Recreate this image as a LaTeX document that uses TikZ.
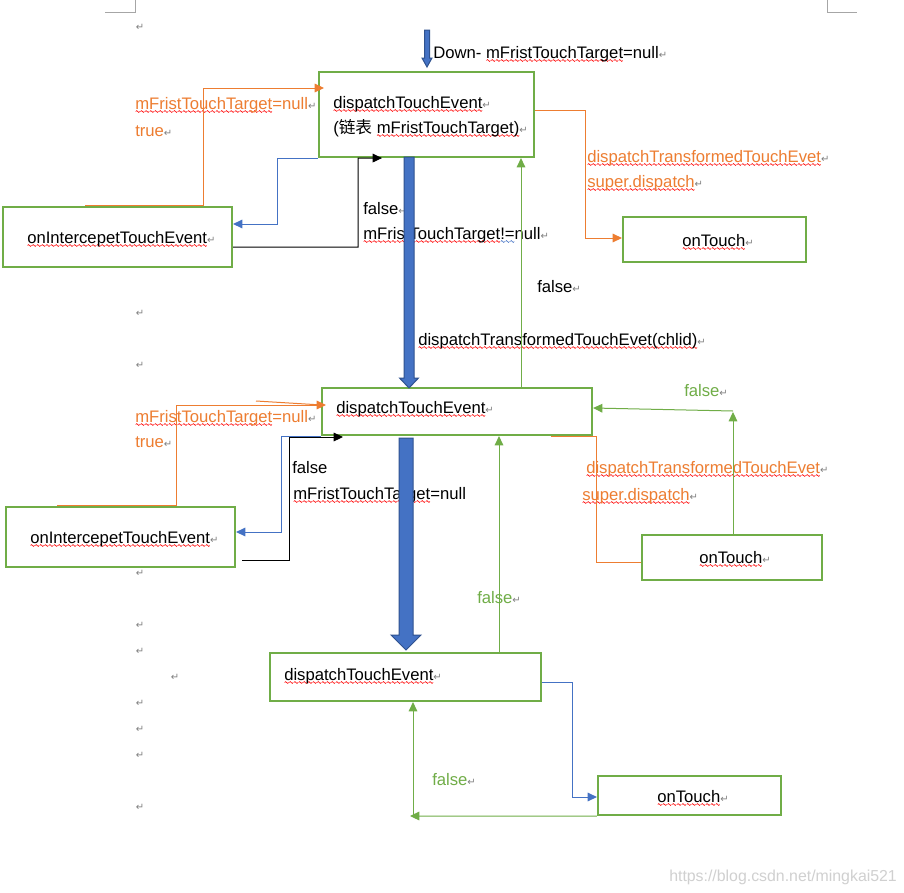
\documentclass[tikz,border=0pt]{standalone}
\usepackage{fontspec}
\setmainfont{Liberation Sans}
\newfontfamily\cjk{Noto Sans CJK SC}
\newfontfamily\djv{DejaVu Sans}
\usetikzlibrary{arrows.meta,fit}
\definecolor{ogreen}{HTML}{70AD47}
\definecolor{oorange}{HTML}{ED7D31}
\definecolor{oblue}{HTML}{4472C4}
\definecolor{odblue}{HTML}{2F528F}
\definecolor{retgray}{HTML}{808080}
\definecolor{wvred}{HTML}{FF0000}
\definecolor{wvblue}{HTML}{4472C4}
\definecolor{pagegray}{HTML}{A6A6A6}
\definecolor{wmgray}{HTML}{D0D0D0}
\newsavebox\wavR
\newsavebox\wavB
\newsavebox\wavT
\newcommand\mkwave[2]{\sbox#1{\pgfpicture
  \pgfsetlinewidth{0.45pt}\pgfsetstrokecolor{#2}%
  \pgfpathmoveto{\pgfpoint{0pt}{0pt}}%
  \pgfpathcurveto{\pgfpoint{0.45pt}{0.9pt}}{\pgfpoint{1.05pt}{0.9pt}}{\pgfpoint{1.5pt}{0pt}}%
  \pgfpathcurveto{\pgfpoint{1.95pt}{-0.9pt}}{\pgfpoint{2.55pt}{-0.9pt}}{\pgfpoint{3pt}{0pt}}%
  \pgfusepath{stroke}\endpgfpicture}}
\newcommand\wvgen[2]{\sbox\wavT{#2}\rlap{\lower3pt\hbox to\wd\wavT{\xleaders\copy#1\hfil}}\usebox\wavT}
\newcommand\wv[1]{\wvgen\wavR{#1}}
\newcommand\bwv[1]{\wvgen\wavB{#1}}
\newcommand\retm{{\djv\fontsize{7.5}{7.5}\selectfont\textcolor{retgray}{↵}}}
\begin{document}
\mkwave\wavR{wvred}\mkwave\wavB{wvblue}%
\begin{tikzpicture}[x=0.75pt,y=-0.75pt,
  box/.style={draw=ogreen,line width=1.6pt,inner sep=0pt},
  txt/.style={inner sep=0pt,anchor=base west,font=\fontsize{12.5}{14}\selectfont},
  otxt/.style={txt,text=oorange},
  gtxt/.style={txt,text=ogreen},
  pmark/.style={inner sep=0pt,anchor=center},
  con/.style={line width=0.75pt},
  tip/.style={-{Triangle[length=7pt,width=6.5pt]}},
  ocon/.style={con,draw=oorange},
  bcon/.style={con,draw=oblue},
  kcon/.style={con,draw=black},
  gcon/.style={con,draw=ogreen},
  bigarrow/.style={fill=oblue,draw=odblue,line width=0.75pt}]
\useasboundingbox (0,0) rectangle (904,893);
\fill[white] (0,0) rectangle (904,893);

% page corner marks
\draw[pagegray,line width=0.75pt] (105,12) -- (135,12) -- (135,0);
\draw[pagegray,line width=0.75pt] (827,0) -- (827,12) -- (857,12);

% paragraph marks
\node[pmark] (p1) at (140,27) {\retm};
\node[pmark] (p2) at (140,313) {\retm};
\node[pmark] (p3) at (140,365) {\retm};
\node[pmark] (p4) at (140,573) {\retm};
\node[pmark] (p5) at (140,625) {\retm};
\node[pmark] (p6) at (140,651) {\retm};
\node[pmark] (p7) at (175,677) {\retm};
\node[pmark] (p8) at (140,703) {\retm};
\node[pmark] (p9) at (140,729) {\retm};
\node[pmark] (p10) at (140,755) {\retm};
\node[pmark] (p11) at (140,807) {\retm};

% boxes
\node[box,fit={(319,72) (534,157)}] (b1) {};
\node[box,fit={(3,207) (232,267)}] (b2) {};
\node[box,fit={(623,217) (806,262)}] (b3) {};
\node[box,fit={(322,388) (592,435)}] (b4) {};
\node[box,fit={(6,507) (235,567)}] (b5) {};
\node[box,fit={(642,535) (822,580)}] (b6) {};
\node[box,fit={(270,653) (541,701)}] (b7) {};
\node[box,fit={(598,776) (781,815)}] (b8) {};

% texts
\node[txt] (tdown) at (433,58) {Down- \wv{mFristTouchTarget}=null\retm};
\node[otxt] (to1) at (135,109) {\wv{mFristTouchTarget}=null\retm};
\node[otxt] (to1b) at (135,136) {true\retm};
\node[txt] (t1a) at (333,108) {\wv{dispatchTouchEvent}\retm};
\node[txt] (t1b) at (333,133) {({\cjk 链表} \wv{mFristTouchTarget)}\retm};
\node[txt] (t2) at (27,243) {\wv{onIntercepetTouchEvent}\retm};
\node[txt] (tf1) at (363,214) {false\retm};
\node[txt] (tf1b) at (363,239) {\wv{mFristTouchTarget}\bwv{!=}null\retm};
\node[otxt] (to2) at (587,162) {\wv{dispatchTransformedTouchEvet}\retm};
\node[otxt] (to2b) at (587,187) {\wv{super.dispatch}\retm};
\node[txt] (t3) at (682,246) {\wv{onTouch}\retm};
\node[txt] (tf2) at (537,292) {false\retm};
\node[txt] (tdt) at (418,345) {\wv{dispatchTransformedTouchEvet(chlid)}\retm};
\node[txt] (t4) at (336,413) {\wv{dispatchTouchEvent}\retm};
\node[otxt] (to3) at (135,422) {\wv{mFristTouchTarget}=null\retm};
\node[otxt] (to3b) at (135,447) {true\retm};
\node[txt] (tf3) at (292,473) {false};
\node[txt] (tf3b) at (293,499) {\wv{mFristTouchTarget}=null};
\node[gtxt] (tg1) at (684,396) {false\retm};
\node[otxt] (to4) at (586,473) {\wv{dispatchTransformedTouchEvet}\retm};
\node[otxt] (to4b) at (582,500) {\wv{super.dispatch}\retm};
\node[txt] (t5) at (30,543) {\wv{onIntercepetTouchEvent}\retm};
\node[txt] (t6) at (699,563) {\wv{onTouch}\retm};
\node[gtxt] (tg2) at (477,603) {false\retm};
\node[txt] (t7) at (284,680) {\wv{dispatchTouchEvent}\retm};
\node[gtxt] (tg3) at (432,785) {false\retm};
\node[txt] (t8) at (657,802) {\wv{onTouch}\retm};

% connectors, top part
\draw[ocon,tip] (85,0 |- b2.north) -| (203,88) -- (324,88);
\draw[bcon,tip] (b1.south west) -| (277,224) -- (b2.east |- 0,224);
\draw[kcon,tip] (b2.east |- 0,247) -| (358,158) -- (382,0 |- b1.south);
\draw[ocon,tip] (b1.east |- 0,110) -| (585,238) -- (b3.west |- 0,238);
\draw[gcon,tip] (521,0 |- b4.north) -- (521,0 |- b1.south);

% connectors, middle part
\draw[ocon,tip] (57,0 |- b5.north) -| (176,405) -- (326,405);
\draw[ocon] (256,401) -- (322,405);
\draw[bcon,tip] (b4.south west) -| (281,532) -- (b5.east |- 0,532);
\draw[kcon,tip] (242,560) -| (289,437) -- (343,437);
\draw[gcon,tip] (733,0 |- b6.north) -- (733,412);
\draw[gcon,tip] (733,411) -- (b4.east |- 0,408);
\draw[ocon] (551,0 |- b4.south) -| (596,562) -- (b6.west |- 0,562);
\draw[gcon,tip] (499,0 |- b7.north) -- (499,0 |- b4.south);

% connectors, bottom part
\draw[bcon,tip] (b7.east |- 0,682) -| (572,797) -- (b8.west |- 0,797);
\draw[gcon,tip] (b8.south west) -- (410,816);
\draw[gcon,tip] (413,816) -- (413,0 |- b7.south);

% big blue arrows
\draw[bigarrow] (424.5,30) -- (429.5,30) -- (429.5,58) -- (432,58) -- (427,67) -- (422,58) -- (424.5,58) -- cycle;
\draw[bigarrow] (404,157) -- (414,157) -- (414,378) -- (418.5,378) -- (409,388) -- (399.5,378) -- (404,378) -- cycle;
\draw[bigarrow] (399,438) -- (413,438) -- (413,635) -- (421,635) -- (406,650) -- (391,635) -- (399,635) -- cycle;

% watermark
\node[inner sep=0pt,anchor=base west,text=wmgray,font=\fontsize{11.9}{14}\selectfont] (wm) at (669,881) {https://blog.csdn.net/mingkai521};
\end{tikzpicture}
\end{document}
